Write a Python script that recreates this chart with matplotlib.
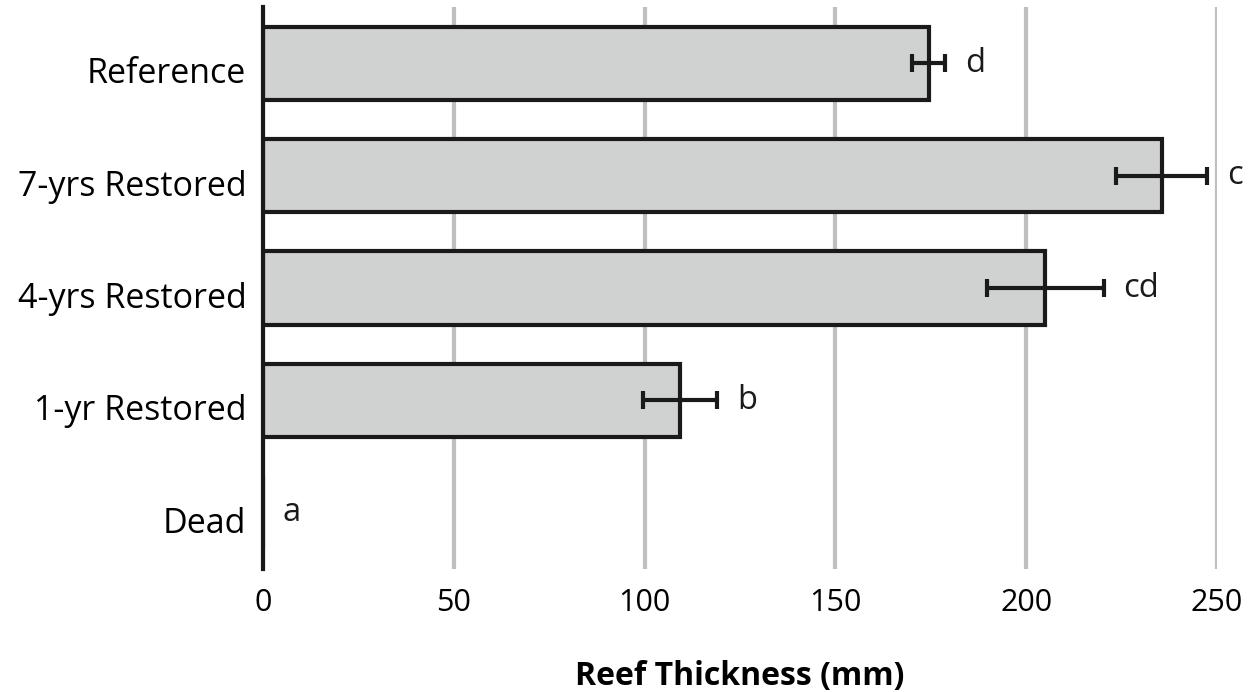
import matplotlib
matplotlib.use("Agg")
import matplotlib.pyplot as plt
import matplotlib.transforms as mtransforms

categories = ["Reference", "7-yrs Restored", "4-yrs Restored", "1-yr Restored", "Dead"]
thickness = [174.5, 235.5, 205.0, 109.3, 0.0]
errors = [4.3, 12.0, 15.3, 9.8, 0.0]
letters = ["d", "c", "cd", "b", "a"]
xticks = [0, 50, 100, 150, 200, 250]

plt.rcParams["font.family"] = ["Open Sans", "DejaVu Sans"]

fig = plt.figure(figsize=(12.59, 6.92), dpi=100)
ax = fig.add_axes([0.2089, 0.1777, 0.7577, 0.8122])

ypos = list(range(len(categories)))
ax.barh(ypos, thickness, height=0.65, color="#d0d2d2", edgecolor="#1a1a1a",
        linewidth=3, zorder=3)
for y, v, e in zip(ypos, thickness, errors):
    if e > 0:
        ax.errorbar(v, y, xerr=e, fmt="none", ecolor="#1a1a1a", elinewidth=3,
                    capsize=6.5, capthick=3, zorder=4)

for y, v, e, lab in zip(ypos, thickness, errors, letters):
    ax.annotate(lab, xy=(v + e, y), xytext=(14, 0), textcoords="offset points",
                ha="left", va="center", fontsize=23.5, color="#1a1a1a")

ax.set_xlim(0, 250)
ax.set_ylim(len(categories) - 0.5, -0.5)
ax.set_yticks(ypos)
ax.set_yticklabels(categories, fontsize=24.5)
ax.set_xticks(xticks)
ax.set_xticklabels([str(t) for t in xticks], fontsize=22)
ax.tick_params(axis="y", length=0, pad=12)
ax.tick_params(axis="x", length=0, pad=14)

# nudge category labels slightly downward
shift = mtransforms.ScaledTranslation(0, -5 / 72, fig.dpi_scale_trans)
for lbl in ax.get_yticklabels():
    lbl.set_transform(lbl.get_transform() + shift)

ax.grid(axis="x", color="#bfbfbf", linewidth=3, zorder=0)
ax.set_axisbelow(True)
for side in ["top", "right", "bottom"]:
    ax.spines[side].set_visible(False)
ax.spines["left"].set_linewidth(3)
ax.spines["left"].set_color("#1a1a1a")
ax.spines["left"].set_zorder(5)

ax.set_xlabel("Reef Thickness (mm)", fontsize=23, fontweight="bold", labelpad=30)

fig.savefig("out.png", dpi=100)
